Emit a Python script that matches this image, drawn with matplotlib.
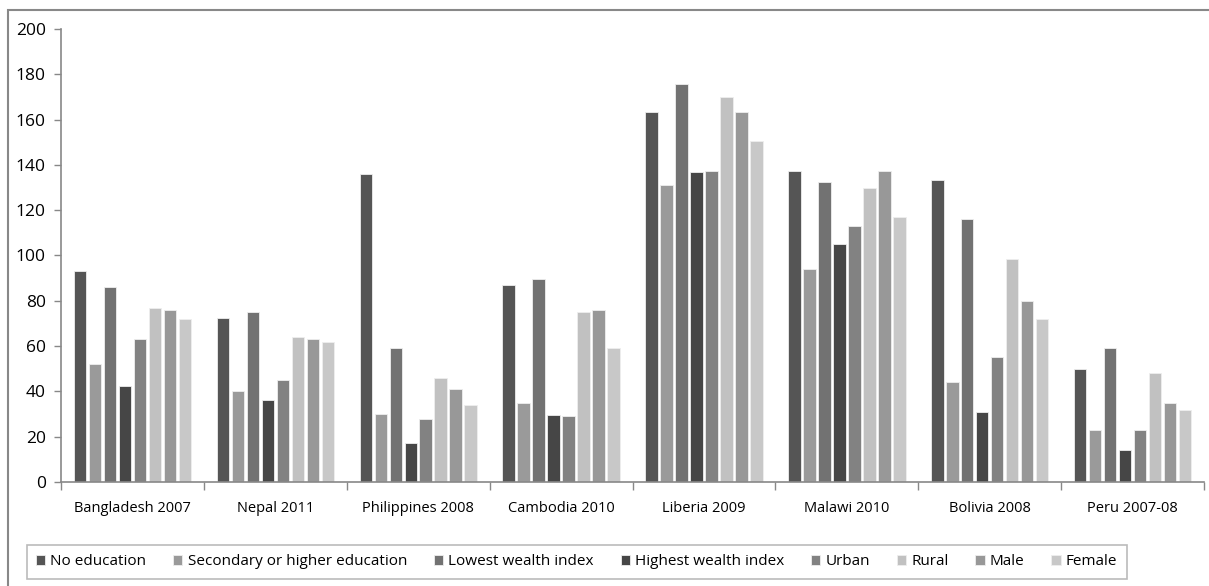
import numpy as np
import matplotlib.pyplot as plt
from matplotlib.patches import Rectangle

plt.rcParams['font.family'] = ['Open Sans', 'DejaVu Sans']

countries = ["Bangladesh 2007", "Nepal 2011", "Philippines 2008", "Cambodia 2010",
             "Liberia 2009", "Malawi 2010", "Bolivia 2008", "Peru 2007-08"]
series = ["No education", "Secondary or higher education", "Lowest wealth index",
          "Highest wealth index", "Urban", "Rural", "Male", "Female"]

no_education   = [93, 72.5, 136, 87, 163.5, 137.5, 133.5, 50]
secondary      = [52, 40, 30, 35, 131, 94, 44, 23]
lowest_wealth  = [86, 75, 59, 89.5, 175.5, 132.5, 116, 59]
highest_wealth = [42.5, 36, 17, 29.5, 137, 105, 31, 14]
urban          = [63, 45, 28, 29, 137.5, 113, 55, 23]
rural          = [77, 64, 46, 75, 170, 130, 98.5, 48]
male           = [76, 63, 41, 76, 163.5, 137.5, 80, 35]
female         = [72, 62, 34, 59, 150.5, 117, 72, 32]

values = [no_education, secondary, lowest_wealth, highest_wealth, urban, rural, male, female]
colors = ["#555555", "#9a9a9a", "#727272", "#464646", "#828282", "#c1c1c1", "#989898", "#c8c8c8"]

fig = plt.figure(figsize=(12.09, 5.86), dpi=100)
ax = fig.add_axes([0.0505, 0.1775, 0.9454, 0.773])

step = 15 / 143
width = 12.5 / 143
x0 = np.arange(len(countries)) + 0.5
for i, (name, vals, c) in enumerate(zip(series, values, colors)):
    ax.bar(x0 + (i - 3.5) * step, vals, width=width, color=c, label=name,
           edgecolor="#eeeeee", linewidth=0.6)

ax.set_xlim(0, len(countries))
ax.set_ylim(0, 200)
ax.set_yticks(range(0, 201, 20))
ax.set_xticks(range(len(countries) + 1))
ax.set_xticklabels([])
ax.set_xticks(x0, minor=True)
ax.set_xticklabels(countries, minor=True)
ax.tick_params(axis="x", which="major", length=6, color="#888888", width=1)
ax.tick_params(axis="x", which="minor", length=0, pad=14, labelsize=10.5)
ax.tick_params(axis="y", length=5, color="#888888", width=1, labelsize=12.5, pad=6)

for s in ["top", "right"]:
    ax.spines[s].set_visible(False)
for s in ["left", "bottom"]:
    ax.spines[s].set_color("#888888")
    ax.spines[s].set_linewidth(1.2)

leg = fig.legend(loc="center", bbox_to_anchor=(0.477, 0.041), ncol=8, fontsize=11,
                 handlelength=0.6, handleheight=0.6, handletextpad=0.35,
                 columnspacing=1.75, fancybox=False, borderpad=0.6)
leg.get_frame().set_edgecolor("#aaaaaa")
leg.get_frame().set_linewidth(1.2)

fig.patches.append(Rectangle((8 / 1209, -0.05), 1.1, 1 - 10 / 586 + 0.05,
                             transform=fig.transFigure, fill=False,
                             edgecolor="#888888", linewidth=1.5))

fig.savefig("out.png", dpi=100)
